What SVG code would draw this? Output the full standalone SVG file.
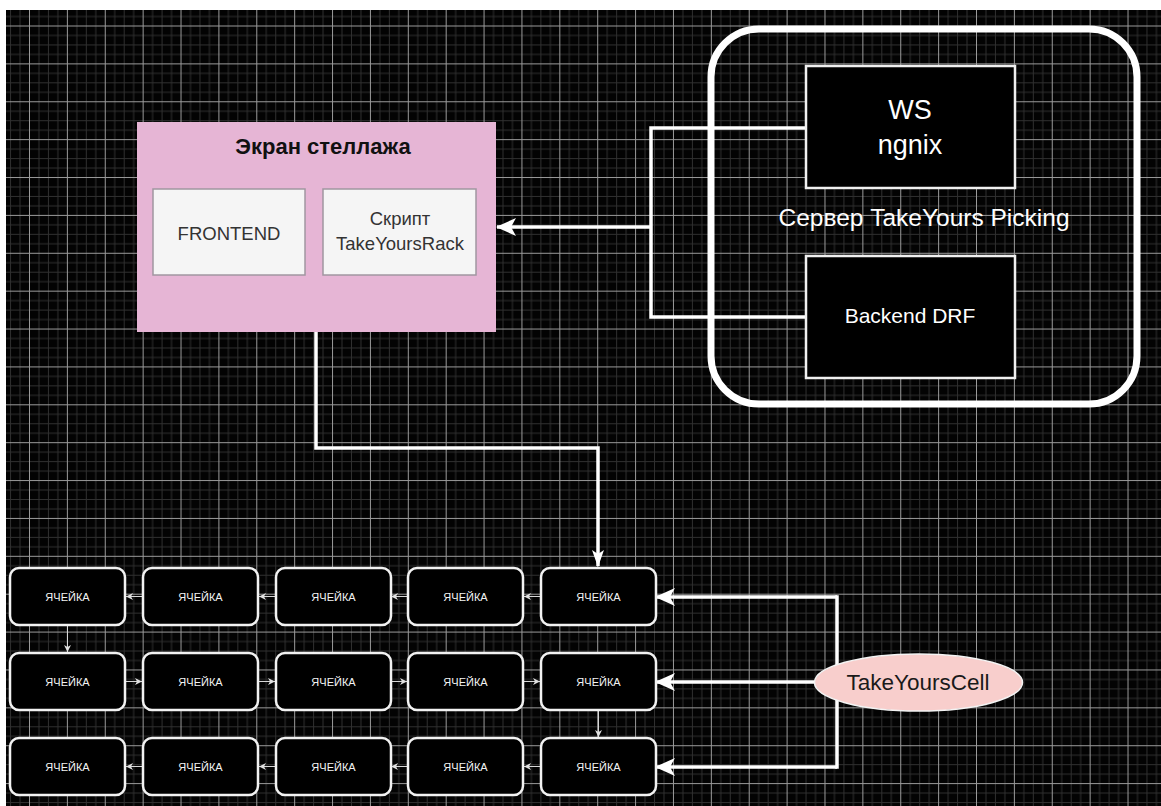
<svg xmlns="http://www.w3.org/2000/svg" width="1161" height="806" viewBox="0 0 1161 806">
<style>
.t{font-family:"Liberation Sans",Arial,sans-serif;}
.cell rect{fill:#000;stroke:#f2f2f2;stroke-width:2.5;}
.cell text{font-family:"Liberation Sans",Arial,sans-serif;font-size:11px;fill:#f4f4f4;text-anchor:middle;}
.thick{fill:none;stroke:#fff;stroke-width:3.5;}
.thin{fill:none;stroke:#d8d8d8;stroke-width:1;}
.dark rect{fill:#000;stroke:#f0f0f0;stroke-width:2.5;}
.inner{fill:#f5f5f5;stroke:#a096a0;stroke-width:1.5;}
</style>
<defs>
<pattern id="grid" x="29" y="25.5" width="37.88" height="37.88" patternUnits="userSpaceOnUse">
<path d="M9.97 0V37.88M19.44 0V37.88M28.91 0V37.88M0 9.97H37.88M0 19.44H37.88M0 28.91H37.88" stroke="#303030" stroke-width="1" fill="none"/>
<path d="M0.5 0V37.88M0 0.5H37.88" stroke="#9a9a9a" stroke-width="1" fill="none"/>
</pattern>
<marker id="big" viewBox="0 0 20 18" refX="19" refY="9" markerWidth="20" markerHeight="18" markerUnits="userSpaceOnUse" orient="auto">
<path d="M0,0 L20,9 L0,18 L5,9 z" fill="#fff"/>
</marker>
<marker id="mid" viewBox="0 0 17 12" refX="16" refY="6" markerWidth="17" markerHeight="12" markerUnits="userSpaceOnUse" orient="auto">
<path d="M0,0 L17,6 L0,12 L4,6 z" fill="#fff"/>
</marker>
<marker id="small" viewBox="0 0 7 7" refX="7" refY="3.5" markerWidth="7" markerHeight="7" markerUnits="userSpaceOnUse" orient="auto">
<path d="M0,0 L7,3.5 L0,7 L2,3.5 z" fill="#e0e0e0"/>
</marker>
</defs>
<rect x="0" y="0" width="1161" height="806" fill="#fff"/>
<rect x="6" y="10" width="1155" height="796" fill="#030303"/>
<rect x="6" y="10" width="1155" height="796" fill="url(#grid)"/>

<g id="server">
<rect x="711" y="29" width="426" height="375" rx="48" ry="48" fill="none" stroke="#fff" stroke-width="7"/>
<text class="t" x="924" y="226" font-size="24.5" fill="#fff" text-anchor="middle">Сервер TakeYours Picking</text>
</g>

<g id="connectors">
<path class="thick" d="M806,128 H651 V317 H806"/>
<path class="thick" d="M651,227 H497" marker-end="url(#big)"/>
<path class="thick" d="M316,332 V448 H598 V566" marker-end="url(#mid)"/>
<path class="thick" d="M837,597 H656" marker-end="url(#big)"/>
<path class="thick" d="M837,767 H656" marker-end="url(#big)"/>
<path class="thick" d="M815,682 H656" marker-end="url(#big)"/>
<path class="thick" d="M837,595.25 V768.75"/>
<path class="thin" d="M143,596.5 H126" marker-end="url(#small)"/>
<path class="thin" d="M276,596.5 H259" marker-end="url(#small)"/>
<path class="thin" d="M408,596.5 H391" marker-end="url(#small)"/>
<path class="thin" d="M541,596.5 H524" marker-end="url(#small)"/>
<path class="thin" d="M125,681.5 H142" marker-end="url(#small)"/>
<path class="thin" d="M258,681.5 H275" marker-end="url(#small)"/>
<path class="thin" d="M391,681.5 H407" marker-end="url(#small)"/>
<path class="thin" d="M523,681.5 H540" marker-end="url(#small)"/>
<path class="thin" d="M143,766.5 H126" marker-end="url(#small)"/>
<path class="thin" d="M276,766.5 H259" marker-end="url(#small)"/>
<path class="thin" d="M408,766.5 H391" marker-end="url(#small)"/>
<path class="thin" d="M541,766.5 H524" marker-end="url(#small)"/>
<path class="thin" d="M67.5,625 V652" marker-end="url(#small)"/>
<path class="thin" d="M598.5,710 V737" marker-end="url(#small)"/>
</g>

<g id="ws" class="dark">
<rect x="806" y="66" width="209" height="122"/>
<text class="t" x="910" y="119" font-size="27" fill="#fff" text-anchor="middle">WS</text>
<text class="t" x="910" y="154" font-size="27" fill="#fff" text-anchor="middle">ngnix</text>
</g>
<g id="backend" class="dark">
<rect x="806" y="256" width="209" height="122"/>
<text class="t" x="910" y="323" font-size="21" fill="#fff" text-anchor="middle">Backend DRF</text>
</g>

<g id="screen">
<rect x="137" y="122" width="359" height="210" fill="#e6b5d5"/>
<text class="t" x="323" y="154" font-size="22" font-weight="bold" fill="#111" text-anchor="middle">Экран стеллажа</text>
</g>
<g id="frontend">
<rect class="inner" x="153" y="189" width="152" height="86"/>
<text class="t" x="229" y="240" font-size="18.5" fill="#333" text-anchor="middle">FRONTEND</text>
</g>
<g id="script">
<rect class="inner" x="323" y="189" width="153" height="86"/>
<text class="t" x="400" y="225" font-size="18.5" fill="#333" text-anchor="middle">Скрипт</text>
<text class="t" x="400" y="250" font-size="18.5" fill="#333" text-anchor="middle">TakeYoursRack</text>
</g>

<g id="cell-1-1" class="cell"><rect x="10" y="568" width="115" height="57" rx="9"/><text x="67.5" y="601">ЯЧЕЙКА</text></g>
<g id="cell-1-2" class="cell"><rect x="143" y="568" width="115" height="57" rx="9"/><text x="200.5" y="601">ЯЧЕЙКА</text></g>
<g id="cell-1-3" class="cell"><rect x="276" y="568" width="115" height="57" rx="9"/><text x="333.5" y="601">ЯЧЕЙКА</text></g>
<g id="cell-1-4" class="cell"><rect x="408" y="568" width="115" height="57" rx="9"/><text x="465.5" y="601">ЯЧЕЙКА</text></g>
<g id="cell-1-5" class="cell"><rect x="541" y="568" width="115" height="57" rx="9"/><text x="598.5" y="601">ЯЧЕЙКА</text></g>
<g id="cell-2-1" class="cell"><rect x="10" y="653" width="115" height="57" rx="9"/><text x="67.5" y="686">ЯЧЕЙКА</text></g>
<g id="cell-2-2" class="cell"><rect x="143" y="653" width="115" height="57" rx="9"/><text x="200.5" y="686">ЯЧЕЙКА</text></g>
<g id="cell-2-3" class="cell"><rect x="276" y="653" width="115" height="57" rx="9"/><text x="333.5" y="686">ЯЧЕЙКА</text></g>
<g id="cell-2-4" class="cell"><rect x="408" y="653" width="115" height="57" rx="9"/><text x="465.5" y="686">ЯЧЕЙКА</text></g>
<g id="cell-2-5" class="cell"><rect x="541" y="653" width="115" height="57" rx="9"/><text x="598.5" y="686">ЯЧЕЙКА</text></g>
<g id="cell-3-1" class="cell"><rect x="10" y="738" width="115" height="57" rx="9"/><text x="67.5" y="771">ЯЧЕЙКА</text></g>
<g id="cell-3-2" class="cell"><rect x="143" y="738" width="115" height="57" rx="9"/><text x="200.5" y="771">ЯЧЕЙКА</text></g>
<g id="cell-3-3" class="cell"><rect x="276" y="738" width="115" height="57" rx="9"/><text x="333.5" y="771">ЯЧЕЙКА</text></g>
<g id="cell-3-4" class="cell"><rect x="408" y="738" width="115" height="57" rx="9"/><text x="465.5" y="771">ЯЧЕЙКА</text></g>
<g id="cell-3-5" class="cell"><rect x="541" y="738" width="115" height="57" rx="9"/><text x="598.5" y="771">ЯЧЕЙКА</text></g>

<g id="takeyourscell">
<ellipse cx="918.5" cy="682.5" rx="104" ry="28.5" fill="#f8cecc" stroke="#f4f4f4" stroke-width="1.5"/>
<text class="t" x="918" y="690" font-size="22.5" fill="#1a1a1a" text-anchor="middle">TakeYoursCell</text>
</g>
</svg>
